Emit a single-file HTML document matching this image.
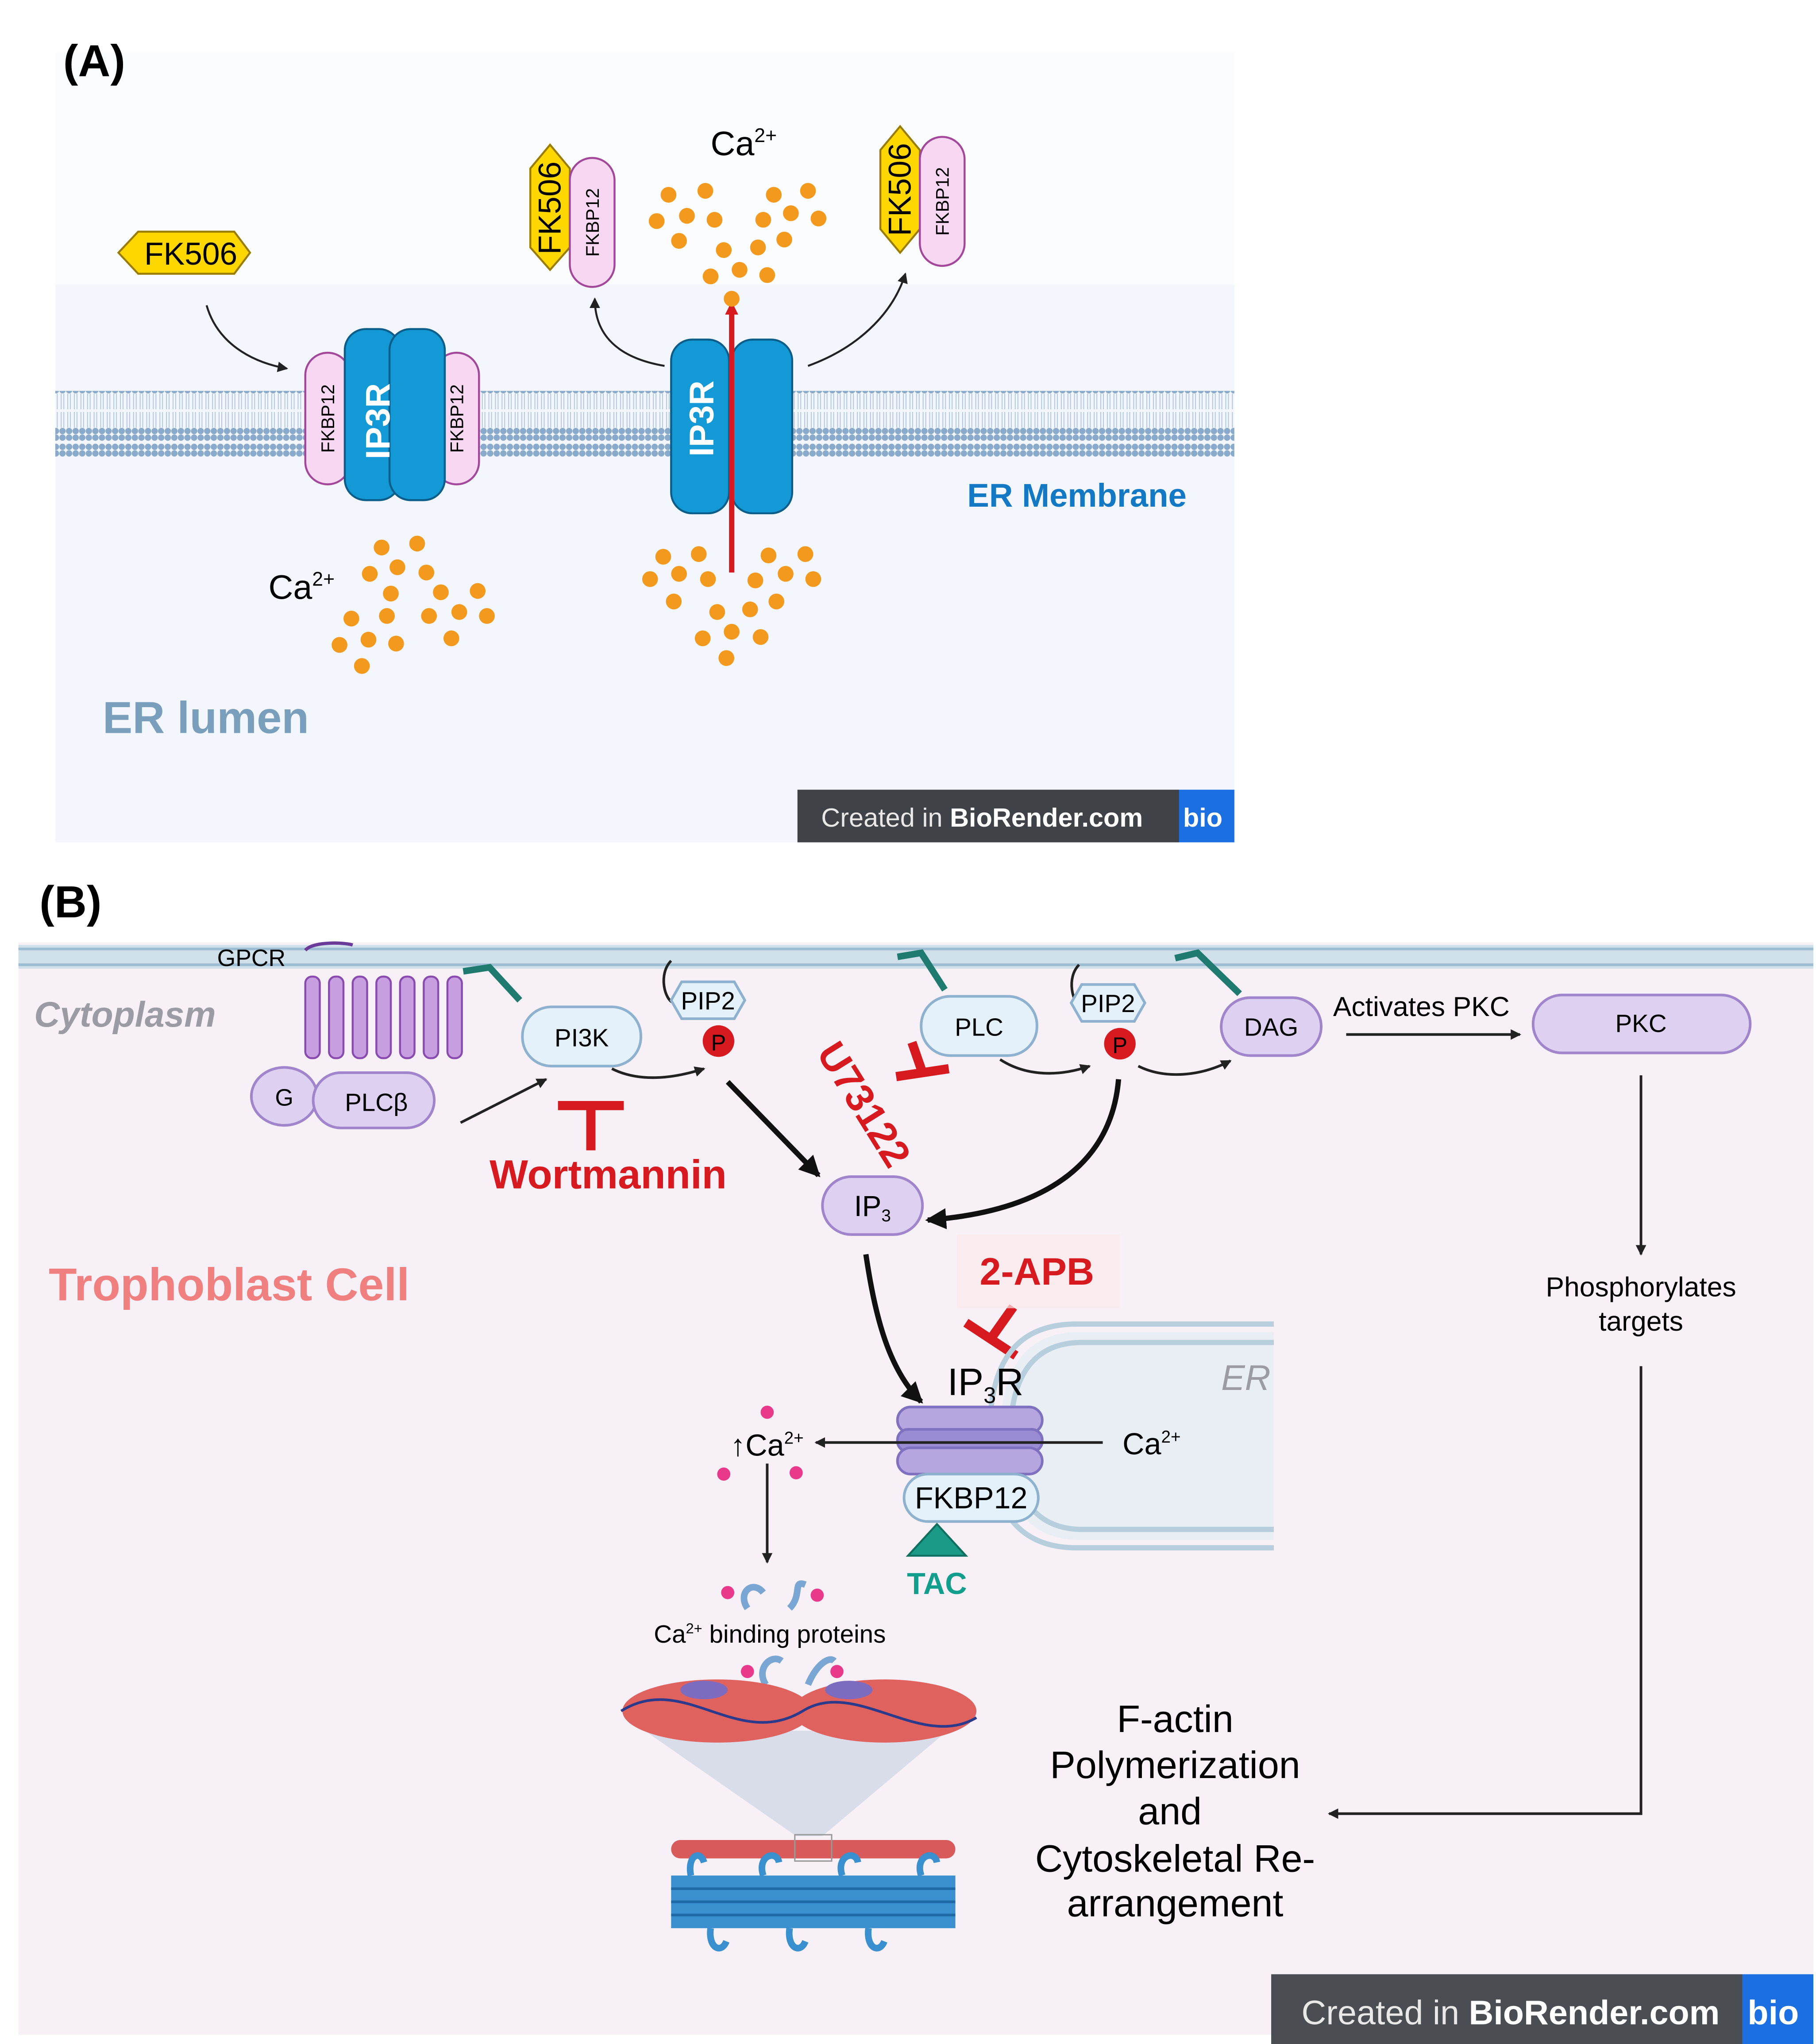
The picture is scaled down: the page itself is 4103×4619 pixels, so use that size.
<!DOCTYPE html>
<html><head><meta charset="utf-8"><style>html,body{margin:0;padding:0;background:#fff}svg{display:block}</style></head>
<body>
<svg width="4103" height="4619" viewBox="0 0 1380 1553" preserveAspectRatio="none" xmlns="http://www.w3.org/2000/svg" font-family="Liberation Sans, sans-serif">
<defs>
<marker id="a" markerWidth="8" markerHeight="8" refX="7" refY="4" orient="auto" markerUnits="userSpaceOnUse"><path d="M0,0L8,4L0,8z" fill="#222"/></marker>
<marker id="ab" markerWidth="16" markerHeight="16" refX="14" refY="8" orient="auto" markerUnits="userSpaceOnUse"><path d="M0,0L16,8L0,16z" fill="#111"/></marker>
<marker id="ar" markerWidth="10" markerHeight="10" refX="9" refY="5" orient="auto" markerUnits="userSpaceOnUse"><path d="M0,0L10,5L0,10z" fill="#d71920"/></marker>
<pattern id="lip" width="5" height="48" patternUnits="userSpaceOnUse"><circle cx="2.5" cy="3.5" r="2.4" fill="#8aaacb"/><circle cx="2.5" cy="8.5" r="2.4" fill="#8aaacb"/><circle cx="2.5" cy="39.5" r="2.4" fill="#8aaacb"/><circle cx="2.5" cy="44.5" r="2.4" fill="#8aaacb"/><path d="M1.5,11V23M3.5,11V23M1.5,25V37M3.5,25V37" stroke="#b3c8df" stroke-width="0.7"/></pattern>
</defs>
<!-- Panel A -->
<rect x="42" y="40" width="896" height="176" fill="#fbfcfe"/>
<rect x="42" y="216" width="896" height="424" fill="#f3f7fd"/>
<text x="48" y="58" font-size="34" font-weight="bold">(A)</text>
<rect x="42" y="297" width="896" height="50" fill="url(#lip)"/>
<!-- left channel -->
<rect x="232" y="268" width="34" height="100" rx="17" fill="#f7d7f2" stroke="#a3479a" stroke-width="1.5"/>
<rect x="330" y="268" width="34" height="100" rx="17" fill="#f7d7f2" stroke="#a3479a" stroke-width="1.5"/>
<rect x="262" y="250" width="42" height="130" rx="16" fill="#1399d6" stroke="#0b5d8a" stroke-width="1.5"/>
<rect x="296" y="250" width="42" height="130" rx="16" fill="#1399d6" stroke="#0b5d8a" stroke-width="1.5"/>
<text transform="translate(287,320) rotate(-90)" text-anchor="middle" font-size="26" font-weight="bold" fill="#fff" dy="9">IP3R</text>
<text transform="translate(249,318) rotate(-90)" text-anchor="middle" font-size="14" dy="5">FKBP12</text>
<text transform="translate(347,318) rotate(-90)" text-anchor="middle" font-size="14" dy="5">FKBP12</text>
<!-- right channel -->
<rect x="510" y="258" width="44" height="132" rx="16" fill="#1399d6" stroke="#0b5d8a" stroke-width="1.5"/>
<rect x="556" y="258" width="46" height="132" rx="16" fill="#1399d6" stroke="#0b5d8a" stroke-width="1.5"/>
<text transform="translate(533,318) rotate(-90)" text-anchor="middle" font-size="26" font-weight="bold" fill="#fff" dy="9">IP3R</text>
<line x1="556" y1="435" x2="556" y2="230" stroke="#d71920" stroke-width="4" marker-end="url(#ar)"/>
<!-- FK506 free -->
<polygon points="90,192 105,176 178,176 190,192 178,208 105,208" fill="#ffd700" stroke="#9a7d00" stroke-width="1.5"/>
<text x="145" y="201" text-anchor="middle" font-size="24">FK506</text>
<path d="M157,232 C165,260 190,275 218,280" fill="none" stroke="#222" stroke-width="1.5" marker-end="url(#a)"/>
<path d="M505,278 C470,272 452,255 452,227" fill="none" stroke="#222" stroke-width="1.5" marker-end="url(#a)"/>
<path d="M614,278 C650,265 678,240 688,208" fill="none" stroke="#222" stroke-width="1.5" marker-end="url(#a)"/>
<!-- bound complexes -->
<polygon points="418,110 433,128 433,188 418,205 403,188 403,128" fill="#ffd700" stroke="#9a7d00" stroke-width="1.5"/>
<text transform="translate(418,158) rotate(-90)" text-anchor="middle" font-size="24" dy="8">FK506</text>
<rect x="433" y="120" width="34" height="98" rx="17" fill="#f7d7f2" stroke="#a3479a" stroke-width="1.5"/>
<text transform="translate(450,169) rotate(-90)" text-anchor="middle" font-size="14" dy="5">FKBP12</text>
<polygon points="684,96 699,114 699,174 684,192 669,174 669,114" fill="#ffd700" stroke="#9a7d00" stroke-width="1.5"/>
<text transform="translate(684,144) rotate(-90)" text-anchor="middle" font-size="24" dy="8">FK506</text>
<rect x="699" y="104" width="34" height="98" rx="17" fill="#f7d7f2" stroke="#a3479a" stroke-width="1.5"/>
<text transform="translate(716,153) rotate(-90)" text-anchor="middle" font-size="14" dy="5">FKBP12</text>
<text x="540" y="118" font-size="26">Ca<tspan font-size="15" dy="-10">2+</tspan></text>
<text x="204" y="455" font-size="26">Ca<tspan font-size="15" dy="-10">2+</tspan></text>
<g fill="#f39a1e">
<circle cx="508" cy="148" r="6"/><circle cx="536" cy="145" r="6"/><circle cx="588" cy="148" r="6"/><circle cx="614" cy="145" r="6"/>
<circle cx="499" cy="168" r="6"/><circle cx="522" cy="164" r="6"/><circle cx="543" cy="167" r="6"/><circle cx="580" cy="167" r="6"/><circle cx="601" cy="162" r="6"/><circle cx="622" cy="166" r="6"/>
<circle cx="516" cy="183" r="6"/><circle cx="550" cy="190" r="6"/><circle cx="576" cy="188" r="6"/><circle cx="596" cy="182" r="6"/>
<circle cx="540" cy="210" r="6"/><circle cx="562" cy="205" r="6"/><circle cx="583" cy="209" r="6"/><circle cx="556" cy="227" r="6"/>
<circle cx="290" cy="416" r="6"/><circle cx="317" cy="413" r="6"/><circle cx="281" cy="436" r="6"/><circle cx="302" cy="431" r="6"/><circle cx="324" cy="435" r="6"/>
<circle cx="297" cy="451" r="6"/><circle cx="335" cy="450" r="6"/><circle cx="363" cy="449" r="6"/>
<circle cx="267" cy="470" r="6"/><circle cx="294" cy="468" r="6"/><circle cx="326" cy="468" r="6"/><circle cx="349" cy="465" r="6"/><circle cx="370" cy="468" r="6"/>
<circle cx="258" cy="490" r="6"/><circle cx="280" cy="486" r="6"/><circle cx="301" cy="489" r="6"/><circle cx="343" cy="485" r="6"/><circle cx="275" cy="506" r="6"/>
<circle cx="504" cy="423" r="6"/><circle cx="531" cy="421" r="6"/><circle cx="584" cy="422" r="6"/><circle cx="612" cy="421" r="6"/>
<circle cx="494" cy="440" r="6"/><circle cx="516" cy="436" r="6"/><circle cx="538" cy="440" r="6"/><circle cx="574" cy="441" r="6"/><circle cx="597" cy="436" r="6"/><circle cx="618" cy="440" r="6"/>
<circle cx="512" cy="457" r="6"/><circle cx="545" cy="465" r="6"/><circle cx="570" cy="463" r="6"/><circle cx="590" cy="457" r="6"/>
<circle cx="534" cy="485" r="6"/><circle cx="556" cy="480" r="6"/><circle cx="578" cy="484" r="6"/><circle cx="552" cy="500" r="6"/>
</g>
<text x="735" y="385" font-size="25" font-weight="bold" fill="#1479c4">ER Membrane</text>
<text x="78" y="557" font-size="34" font-weight="bold" fill="#7a9fbd">ER lumen</text>
<rect x="606" y="600" width="290" height="40" fill="#3f4247"/><rect x="896" y="600" width="42" height="40" fill="#1b6fe0"/>
<text x="624" y="628" font-size="20" fill="#e8e8e8">Created in <tspan font-weight="bold" fill="#fff">BioRender.com</tspan></text>
<text x="899" y="628" font-size="20" font-weight="bold" fill="#fff">bio</text>
<!-- Panel B -->
<text x="30" y="697" font-size="34" font-weight="bold">(B)</text>
<rect x="14" y="716" width="1364" height="830" fill="#f8f0f7"/>
<rect x="14" y="718" width="1364" height="18" fill="#cfe0ea"/>
<line x1="14" y1="721" x2="1378" y2="721" stroke="#9cbdd2" stroke-width="2"/>
<line x1="14" y1="733" x2="1378" y2="733" stroke="#9cbdd2" stroke-width="2"/>
<text x="26" y="780" font-size="27" font-style="italic" font-weight="bold" fill="#9b9ba3">Cytoplasm</text>
<text x="165" y="734" font-size="18">GPCR</text>
<g fill="#c79ee0" stroke="#8a4bb0" stroke-width="1.5">
<rect x="232" y="742" width="11" height="62" rx="5"/><rect x="250" y="742" width="11" height="62" rx="5"/><rect x="268" y="742" width="11" height="62" rx="5"/><rect x="286" y="742" width="11" height="62" rx="5"/><rect x="304" y="742" width="11" height="62" rx="5"/><rect x="322" y="742" width="11" height="62" rx="5"/><rect x="340" y="742" width="11" height="62" rx="5"/>
</g>
<path d="M232,722 C238,715 262,716 268,718" fill="none" stroke="#6b3b99" stroke-width="2.5"/>
<ellipse cx="216" cy="833" rx="25" ry="22" fill="#ddd0f0" stroke="#a084cc" stroke-width="2"/>
<text x="216" y="840" text-anchor="middle" font-size="18">G</text>
<rect x="238" y="815" width="92" height="42" rx="21" fill="#ddd0f0" stroke="#a084cc" stroke-width="2"/>
<text x="286" y="844" text-anchor="middle" font-size="19">PLCβ</text>
<line x1="350" y1="853" x2="415" y2="820" stroke="#222" stroke-width="2" marker-end="url(#a)"/>
<g stroke="#1f7a70" stroke-width="5" fill="none"><path d="M352,738L372,735L395,760"/><path d="M682,727L700,724L718,752"/><path d="M893,728L910,724L942,755"/></g>
<rect x="397" y="765" width="90" height="45" rx="22" fill="#e4f0fa" stroke="#8db1ce" stroke-width="2"/>
<text x="442" y="795" text-anchor="middle" font-size="19">PI3K</text>
<path d="M465,812 C485,822 510,820 535,812" fill="none" stroke="#222" stroke-width="2" marker-end="url(#a)"/>
<path d="M510,730 C500,740 505,760 512,762" fill="none" stroke="#222" stroke-width="2"/>
<path d="M820,733 C810,743 815,763 822,765" fill="none" stroke="#222" stroke-width="2"/>
<polygon points="518,746 558,746 566,760 558,774 518,774 510,760" fill="#e4f0fa" stroke="#8db1ce" stroke-width="2"/>
<text x="538" y="767" text-anchor="middle" font-size="19">PIP2</text>
<circle cx="546" cy="791" r="12" fill="#d71920"/><text x="546" y="798" text-anchor="middle" font-size="17">P</text>
<polygon points="822,748 862,748 870,762 862,776 822,776 814,762" fill="#e4f0fa" stroke="#8db1ce" stroke-width="2"/>
<text x="842" y="769" text-anchor="middle" font-size="19">PIP2</text>
<circle cx="851" cy="793" r="12" fill="#d71920"/><text x="851" y="800" text-anchor="middle" font-size="17">P</text>
<rect x="700" y="757" width="88" height="45" rx="22" fill="#e4f0fa" stroke="#8db1ce" stroke-width="2"/>
<text x="744" y="787" text-anchor="middle" font-size="19">PLC</text>
<path d="M760,805 C780,818 805,818 828,810" fill="none" stroke="#222" stroke-width="2" marker-end="url(#a)"/>
<path d="M865,810 C885,820 912,818 935,806" fill="none" stroke="#222" stroke-width="2" marker-end="url(#a)"/>
<rect x="928" y="758" width="76" height="44" rx="22" fill="#ddd0f0" stroke="#a084cc" stroke-width="2"/>
<text x="966" y="787" text-anchor="middle" font-size="19">DAG</text>
<text x="1013" y="772" font-size="21">Activates PKC</text>
<line x1="1023" y1="786" x2="1155" y2="786" stroke="#222" stroke-width="2" marker-end="url(#a)"/>
<rect x="1165" y="756" width="165" height="44" rx="22" fill="#ddd0f0" stroke="#a084cc" stroke-width="2"/>
<text x="1247" y="784" text-anchor="middle" font-size="19">PKC</text>
<line x1="1247" y1="817" x2="1247" y2="953" stroke="#222" stroke-width="2" marker-end="url(#a)"/>
<text x="1247" y="985" text-anchor="middle" font-size="21">Phosphorylates</text>
<text x="1247" y="1011" text-anchor="middle" font-size="21">targets</text>
<polyline points="1247,1038 1247,1378 1010,1378" fill="none" stroke="#222" stroke-width="2" marker-end="url(#a)"/>
<!-- inhibitors -->
<g stroke="#d71920" stroke-width="7" fill="none"><path d="M424,840H474M449,840V874"/><path d="M681,818L721,812M701,815L693,792"/><path d="M734,1005L772,1030M753,1017L770,993"/></g>
<text x="372" y="903" font-size="31" font-weight="bold" fill="#d71920">Wortmannin</text>
<text transform="translate(620,800) rotate(58)" font-size="30" font-weight="bold" fill="#d71920">U73122</text>
<rect x="727" y="938" width="124" height="56" fill="#fbeaea" opacity="0.7"/>
<text x="788" y="976" text-anchor="middle" font-size="29" font-weight="bold" fill="#d71920">2-APB</text>
<line x1="553" y1="822" x2="622" y2="893" stroke="#111" stroke-width="4" marker-end="url(#ab)"/>
<path d="M850,820 C845,880 800,920 705,927" fill="none" stroke="#111" stroke-width="4" marker-end="url(#ab)"/>
<rect x="625" y="894" width="76" height="44" rx="22" fill="#ddd0f0" stroke="#a084cc" stroke-width="2"/>
<text x="663" y="924" text-anchor="middle" font-size="22">IP<tspan font-size="13" dy="4">3</tspan></text>
<text x="37" y="988" font-size="35" font-weight="bold" fill="#f08080">Trophoblast Cell</text>
<path d="M658,953 C665,1000 675,1040 700,1065" fill="none" stroke="#111" stroke-width="4" marker-end="url(#ab)"/>
<!-- ER -->
<path d="M968,1012 H820 C780,1012 760,1040 760,1090 C760,1140 780,1170 820,1170 H968Z" fill="#e8eef4"/>
<path d="M968,1006 H818 C772,1006 752,1035 752,1090 C752,1145 772,1176 818,1176 H968" fill="none" stroke="#b7cedd" stroke-width="4"/>
<path d="M968,1020 H822 C786,1020 768,1045 768,1090 C768,1135 786,1162 822,1162 H968" fill="none" stroke="#b7cedd" stroke-width="4"/>
<text x="928" y="1056" font-size="27" font-style="italic" fill="#9b9ba3">ER</text>
<text x="720" y="1060" font-size="29">IP<tspan font-size="17" dy="6">3</tspan><tspan dy="-6">R</tspan></text>
<rect x="682" y="1069" width="110" height="20" rx="10" fill="#b5a6df" stroke="#8070c0" stroke-width="2"/>
<rect x="682" y="1086" width="110" height="17" rx="8" fill="#9b8ad4" stroke="#8070c0" stroke-width="2"/>
<rect x="682" y="1100" width="110" height="20" rx="10" fill="#b5a6df" stroke="#8070c0" stroke-width="2"/>
<line x1="838" y1="1096" x2="620" y2="1096" stroke="#222" stroke-width="2" marker-end="url(#a)"/>
<text x="853" y="1105" font-size="23">Ca<tspan font-size="13" dy="-9">2+</tspan></text>
<text x="555" y="1106" font-size="23">↑Ca<tspan font-size="13" dy="-9">2+</tspan></text>
<rect x="687" y="1120" width="102" height="36" rx="18" fill="#e4f0fa" stroke="#8db1ce" stroke-width="2"/>
<text x="738" y="1146" text-anchor="middle" font-size="23">FKBP12</text>
<polygon points="690,1182 712,1158 734,1182" fill="#1b9a88" stroke="#107060" stroke-width="1.5"/>
<text x="712" y="1211" text-anchor="middle" font-size="23" font-weight="bold" fill="#129e8c">TAC</text>
<g fill="#e8398a"><circle cx="583" cy="1073" r="5"/><circle cx="550" cy="1120" r="5"/><circle cx="605" cy="1119" r="5"/><circle cx="553" cy="1210" r="5"/><circle cx="621" cy="1212" r="5"/><circle cx="568" cy="1270" r="5"/><circle cx="636" cy="1270" r="5"/></g>
<line x1="583" y1="1112" x2="583" y2="1187" stroke="#222" stroke-width="2" marker-end="url(#a)"/>
<g fill="none" stroke="#7aa6d4" stroke-width="5"><path d="M568,1222 C560,1210 572,1200 580,1210"/><path d="M600,1222 C610,1212 602,1200 612,1204"/><path d="M582,1280 C574,1268 586,1256 594,1262"/><path d="M614,1280 C620,1265 630,1258 634,1262"/></g>
<text x="585" y="1248" text-anchor="middle" font-size="19">Ca<tspan font-size="11" dy="-7">2+</tspan><tspan dy="7"> binding proteins</tspan></text>
<!-- filament -->
<polygon points="490,1315 720,1315 625,1395 605,1395" fill="#d9dde9"/>
<ellipse cx="545" cy="1300" rx="72" ry="24" fill="#e0625f"/><ellipse cx="672" cy="1300" rx="70" ry="24" fill="#e0625f"/>
<path d="M472,1300 C520,1270 560,1330 610,1300 C650,1275 700,1330 742,1305" fill="none" stroke="#2c3a8c" stroke-width="2"/>
<ellipse cx="535" cy="1284" rx="18" ry="7" fill="#7d6bc0"/><ellipse cx="645" cy="1284" rx="18" ry="7" fill="#7d6bc0"/>
<rect x="510" y="1398" width="216" height="14" rx="7" fill="#d95a5a"/>
<rect x="604" y="1394" width="28" height="20" fill="none" stroke="#999"/>
<rect x="510" y="1425" width="216" height="40" fill="#3a8fce"/>
<g stroke="#1e6aa8" stroke-width="2"><line x1="510" y1="1435" x2="726" y2="1435"/><line x1="510" y1="1445" x2="726" y2="1445"/><line x1="510" y1="1455" x2="726" y2="1455"/></g>
<g fill="none" stroke="#3a8fce" stroke-width="5"><path d="M525,1425 C522,1410 532,1405 535,1415"/><path d="M580,1425 C575,1410 590,1405 592,1415"/><path d="M640,1425 C635,1410 650,1405 652,1415"/><path d="M700,1425 C695,1410 710,1405 712,1415"/><path d="M540,1465 C538,1480 548,1485 552,1475"/><path d="M600,1465 C598,1480 608,1485 612,1475"/><path d="M660,1465 C658,1480 668,1485 672,1475"/></g>
<g font-size="29" text-anchor="middle"><text x="893" y="1316">F-actin</text><text x="893" y="1351">Polymerization</text><text x="889" y="1386">and</text><text x="893" y="1422">Cytoskeletal Re-</text><text x="893" y="1456">arrangement</text></g>
<rect x="966" y="1500" width="358" height="53" fill="#4a4d52"/><rect x="1324" y="1500" width="54" height="53" fill="#1b6fe0"/>
<text x="989" y="1538" font-size="26" fill="#e8e8e8">Created in <tspan font-weight="bold" fill="#fff">BioRender.com</tspan></text>
<text x="1328" y="1538" font-size="26" font-weight="bold" fill="#fff">bio</text>
</svg>
</body></html>
